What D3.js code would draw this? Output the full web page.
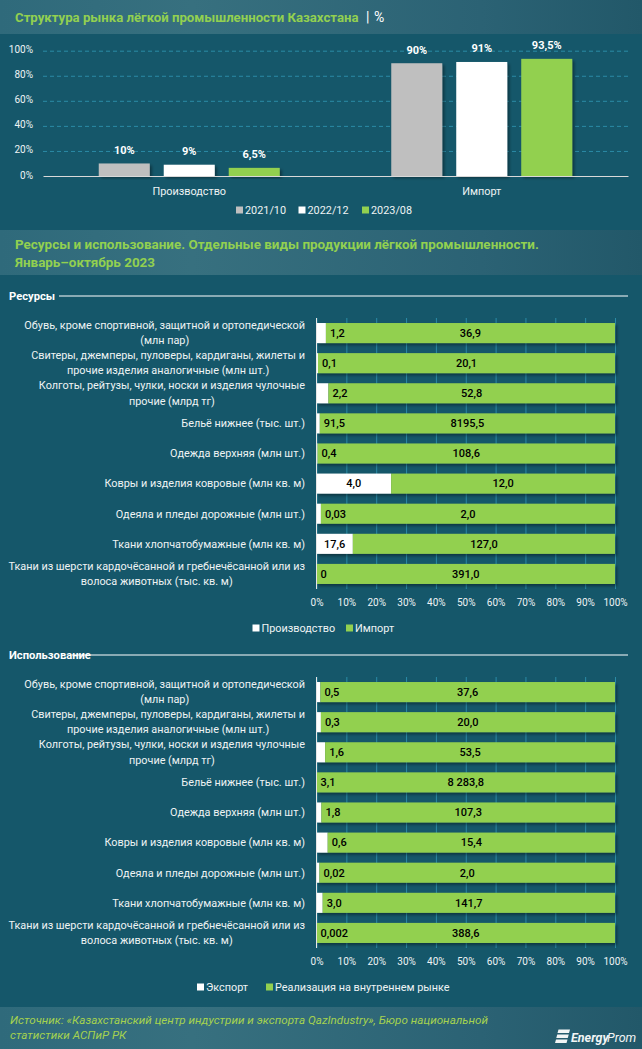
<!DOCTYPE html>
<html><head><meta charset="utf-8">
<script src="https://cdn.jsdelivr.net/npm/d3@7/dist/d3.min.js"></script>
<style>html,body{margin:0;padding:0;background:#15576a}svg{display:block}text{font-family:Roboto,sans-serif}</style>
</head><body><svg id="c" width="642" height="1049"></svg>
<script>
const structCategories = ["Производство","Импорт"];
const structSeries = ["2021/10","2022/12","2023/08"];
const structValues = [[10,9,6.5],[90,91,93.5]];
const structLabels = [["10%","9%","6,5%"],["90%","91%","93,5%"]];
const yTicks = [0,20,40,60,80,100];
const productLines = [
 ["Обувь, кроме спортивной, защитной и ортопедической","(млн пар)"],
 ["Свитеры, джемперы, пуловеры, кардиганы, жилеты и","прочие изделия аналогичные (млн шт.)"],
 ["Колготы, рейтузы, чулки, носки и изделия чулочные","прочие (млрд тг)"],
 ["Бельё нижнее (тыс. шт.)"],
 ["Одежда верхняя (млн шт.)"],
 ["Ковры и изделия ковровые (млн кв. м)"],
 ["Одеяла и пледы дорожные (млн шт.)"],
 ["Ткани хлопчатобумажные (млн кв. м)"],
 ["Ткани из шерсти кардочёсанной и гребнечёсанной или из","волоса животных (тыс. кв. м)"]
];
const resProduction = [1.2,0.1,2.2,91.5,0.4,4.0,0.03,17.6,0];
const resImport = [36.9,20.1,52.8,8195.5,108.6,12.0,2.0,127.0,391.0];
const resProductionLabels = ["1,2","0,1","2,2","91,5","0,4","4,0","0,03","17,6","0"];
const resImportLabels = ["36,9","20,1","52,8","8195,5","108,6","12,0","2,0","127,0","391,0"];
const useExport = [0.5,0.3,1.6,3.1,1.8,0.6,0.02,3.0,0.002];
const useDomestic = [37.6,20.0,53.5,8283.8,107.3,15.4,2.0,141.7,388.6];
const useExportLabels = ["0,5","0,3","1,6","3,1","1,8","0,6","0,02","3,0","0,002"];
const useDomesticLabels = ["37,6","20,0","53,5","8 283,8","107,3","15,4","2,0","141,7","388,6"];
const pctTicks = [0,.1,.2,.3,.4,.5,.6,.7,.8,.9,1];

const GREEN="#92d050", BG="#15576a", GRID="#2b8ba6", TXT="#eef3f4";
const svg=d3.select("#c");
const defs=svg.append("defs");
const grad=defs.append("linearGradient").attr("id","band");
[[0,"#2f6a7b"],[.3,"#37707f"],[.75,"#2b6274"],[1,"#225869"]].forEach(s=>grad.append("stop").attr("offset",s[0]).attr("stop-color",s[1]));
const shadow=defs.append("filter").attr("id","sh").attr("x","-10%").attr("y","-20%").attr("width","125%").attr("height","150%");
shadow.append("feDropShadow").attr("dx",2).attr("dy",2).attr("stdDeviation",1.6).attr("flood-color","#000").attr("flood-opacity",.4);

svg.append("rect").attr("width",642).attr("height",1049).attr("fill",BG);
[[0,34],[230,45],[1007,42]].forEach(b=>svg.append("rect").attr("x",0).attr("y",b[0]).attr("width",642).attr("height",b[1]).attr("fill","url(#band)"));

function T(sel,x,y,s,o={}){
  const t=sel.append("text").attr("x",x).attr("y",y).attr("dy","0.35em").text(s)
   .attr("font-size",o.size||10.85).attr("fill",o.fill||TXT).attr("text-anchor",o.anchor||"start");
  if(o.weight)t.attr("font-weight",o.weight); if(o.style)t.attr("font-style",o.style);
  return t;
}
// Titles
T(svg,15,17,"Структура рынка лёгкой промышленности Казахстана",{size:13.2,weight:700,fill:GREEN});
T(svg,366,17,"|",{size:14,fill:"#fff"});
T(svg,374,17,"%",{size:14,fill:"#fff"});
T(svg,15,244,"Ресурсы и использование. Отдельные виды продукции лёгкой промышленности.",{size:13.45,weight:700,fill:GREEN});
T(svg,15,262,"Январь–октябрь 2023",{size:13.45,weight:700,fill:GREEN});

// Top chart
const yScale=d3.scaleLinear().domain([0,100]).range([176,50.7]);
const x0=d3.scaleBand().domain(structCategories).range([43,628]);
const x1=d3.scaleBand().domain(structSeries).range([-90.5,90.5]).paddingInner(.215);
const color=d3.scaleOrdinal().domain(structSeries).range(["#bfbfbf","#ffffff",GREEN]);
const topChart=svg.append("g");
const ya=topChart.append("g").attr("transform","translate(43,0)").call(d3.axisLeft(yScale).tickValues(yTicks).tickFormat(d=>d+"%").tickSize(-585).tickPadding(10));
ya.select(".domain").remove();
ya.selectAll("line").attr("stroke",GRID).attr("stroke-dasharray","4 3");
ya.selectAll("text").attr("font-size",10).attr("fill",TXT).attr("dy","0.2em").style("font-family","Roboto");
ya.selectAll(".tick").filter(d=>d===0).select("line").attr("stroke","none");
structCategories.forEach((c,i)=>{
  const cx=x0(c)+x0.bandwidth()/2;
  const gg=topChart.append("g").attr("transform",`translate(${cx},0)`);
  gg.selectAll("rect").data(structSeries).join("rect")
    .attr("x",s=>x1(s)).attr("width",x1.bandwidth())
    .attr("y",(s,j)=>yScale(structValues[i][j])).attr("height",(s,j)=>yScale(0)-yScale(structValues[i][j]))
    .attr("fill",s=>color(s)).attr("filter","url(#sh)");
  structSeries.forEach((s,j)=>T(gg,x1(s)+x1.bandwidth()/2,yScale(structValues[i][j])-13.5,structLabels[i][j],{size:11,weight:700,anchor:"middle",fill:"#fff"}));
  T(gg,0,191,c,{anchor:"middle"});
});
const xa=topChart.append("g").attr("transform","translate(0,176)").call(d3.axisBottom(x0).tickSize(0).tickFormat(""));
xa.select(".domain").attr("stroke","#d9d9d9").attr("stroke-width",1);

function legend(items,yy){
  items.forEach(it=>{
    svg.append("rect").attr("x",it[0]).attr("y",yy-3.5).attr("width",7).attr("height",7).attr("fill",it[2]);
    T(svg,it[0]+9,yy,it[1]);
  });
}
legend([[236,structSeries[0],"#bfbfbf"],[298.5,structSeries[1],"#fff"],[362,structSeries[2],GREEN]],210);

// Stacked panels
function panel(title,lineStart,titleY,top0,a,b,aL,bL){
  T(svg,9,titleY,title,{size:11.2,weight:700,fill:"#fff"});
  svg.append("line").attr("x1",lineStart).attr("x2",628).attr("y1",titleY).attr("y2",titleY).attr("stroke","#fff");
  const h=271;
  const x=d3.scaleLinear().domain([0,1]).range([316.5,615]);
  const yb=d3.scaleBand().domain(productLines.map((d,i)=>i)).range([top0,top0+h]).paddingInner(1/3).paddingOuter(1/6);
  const p=svg.append("g");
  const ax=p.append("g").attr("transform",`translate(0,${top0+h})`).call(d3.axisBottom(x).tickValues(pctTicks).tickFormat(d3.format(".0%")).tickSize(-h).tickPadding(10));
  ax.select(".domain").remove();
  ax.selectAll("line").attr("stroke",GRID);
  ax.selectAll("text").attr("font-size",10).attr("fill",TXT).style("font-family","Roboto");
  productLines.forEach((lines,i)=>{
    const cy=yb(i)+yb.bandwidth()/2, tot=a[i]+b[i], w=x(a[i]/tot);
    const bar=p.append("g").attr("filter","url(#sh)");
    bar.append("rect").attr("x",x(0)).attr("y",yb(i)).attr("height",yb.bandwidth()).attr("width",w-x(0)).attr("fill","#fff");
    bar.append("rect").attr("x",w).attr("y",yb(i)).attr("height",yb.bandwidth()).attr("width",x(1)-w).attr("fill",GREEN);
    const lab=T(p,0,cy,aL[i],{size:11,weight:500,fill:"#000"});
    const lw=lab.node().getComputedTextLength();
    if(w-x(0)>lw+4) lab.attr("x",(x(0)+w)/2).attr("text-anchor","middle");
    else lab.attr("x",w+4);
    T(p,(w+x(1))/2,cy,bL[i],{size:11,weight:500,fill:"#000",anchor:"middle"});
    if(lines.length===1){T(p,305,cy,lines[0],{anchor:"end"});}
    else{
      const l1=T(p,305,cy-8,lines[0],{anchor:"end"});
      const mid=305-l1.node().getComputedTextLength()/2;
      T(p,mid,cy+7.5,lines[1],{anchor:"middle"});
    }
  });
  p.append("line").attr("x1",x(0)).attr("x2",x(0)).attr("y1",top0).attr("y2",top0+h).attr("stroke","#e6e6e6");
}
panel("Ресурсы",59,296,318,resProduction,resImport,resProductionLabels,resImportLabels);
panel("Использование",72,655,677,useExport,useDomestic,useExportLabels,useDomesticLabels);
legend([[252.5,"Производство","#fff"],[346,"Импорт",GREEN]],628);
legend([[197,"Экспорт","#fff"],[266,"Реализация на внутреннем рынке",GREEN]],987);

// Footer
T(svg,10,1020,"Источник: «Казахстанский центр индустрии и экспорта QazIndustry», Бюро национальной",{size:11.67,style:"italic",fill:"#a5d24f"});
T(svg,10,1035,"статистики АСПиР РК",{size:11.67,style:"italic",fill:"#a5d24f"});
const logo=svg.append("g").attr("fill","#f2f5f5");
[0,5,10].forEach(d=>logo.append("path").attr("d",d3.line()([[558.5-d*.25,1029.5+d],[570-d*.25,1029.5+d],[569-d*.25,1033+d],[557.5-d*.25,1033+d]])+"Z"));
T(logo,571,1038,"Energy",{size:12.5,weight:700,style:"italic",fill:"#f2f5f5"});
T(logo,607,1038,"Prom",{size:12.5,style:"italic",fill:"#f2f5f5"});
</script></body></html>
